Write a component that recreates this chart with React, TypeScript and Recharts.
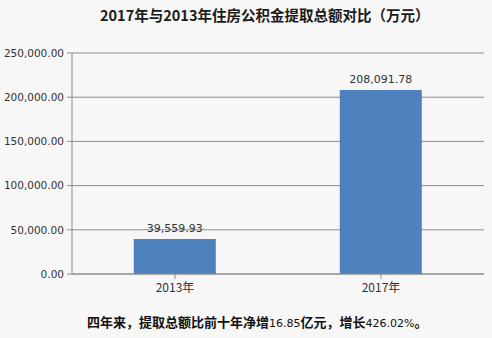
import { Bar, BarChart, CartesianGrid, LabelList, XAxis, YAxis } from 'recharts';

const years = ['2013年', '2017年'];
const totals = [39559.93, 208091.78];
const yTicks = [0, 50000, 100000, 150000, 200000, 250000];

const data = years.map((year, i) => ({ year, total: totals[i] }));

const fmt = (v: number) =>
  v.toLocaleString('en-US', { minimumFractionDigits: 2, maximumFractionDigits: 2 });

const numFont = '"DejaVu Sans", sans-serif';
const cjkFont = '"Noto Sans CJK SC", sans-serif';

const App = () => {
  return (
    <div
      style={{
        position: 'absolute',
        left: 0,
        top: 0,
        width: 492,
        height: 338,
        background: '#f7f7f7',
        fontFamily: cjkFont,
      }}
    >
      <div
        style={{
          position: 'absolute',
          top: 4,
          left: 100,
          fontSize: 14.5,
          fontWeight: 'bold',
          color: '#1a1a1a',
          whiteSpace: 'nowrap',
        }}
      >
        2017年与2013年住房公积金提取总额对比（万元）
      </div>
      <BarChart
        width={492}
        height={338}
        data={data}
        margin={{ top: 53, right: 8, left: 0, bottom: 0 }}
        barCategoryGap="30%"
      >
        <CartesianGrid vertical={false} stroke="#8c8c8c" />
        <XAxis
          dataKey="year"
          height={64}
          tickSize={5}
          tickMargin={4}
          stroke="#8c8c8c"
          tick={{ fill: '#333', fontSize: 12, fontFamily: cjkFont }}
        />
        <YAxis
          width={72}
          domain={[0, 250000]}
          ticks={yTicks}
          tickFormatter={fmt}
          tickSize={5}
          tickMargin={3}
          stroke="#8c8c8c"
          tick={{ fill: '#333', fontSize: 10.5, fontFamily: numFont }}
        />
        <Bar dataKey="total" fill="#4f81bd" isAnimationActive={false}>
          <LabelList
            dataKey="total"
            position="top"
            offset={7}
            formatter={(v: any) => fmt(Number(v))}
            style={{ fill: '#333', fontSize: 11, fontFamily: numFont }}
          />
        </Bar>
      </BarChart>
      <div
        style={{
          position: 'absolute',
          top: 312,
          left: 87,
          fontSize: 13,
          fontWeight: 'bold',
          color: '#111',
          whiteSpace: 'nowrap',
        }}
      >
        四年来，提取总额比前十年净增
        <span style={{ fontFamily: numFont, fontWeight: 'normal', fontSize: 11 }}>16.85</span>
        亿元，增长
        <span style={{ fontFamily: numFont, fontWeight: 'normal', fontSize: 11 }}>426.02%</span>。
      </div>
    </div>
  );
};

export default App;
